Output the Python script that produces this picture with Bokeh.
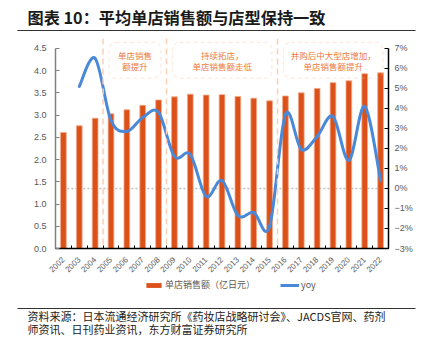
import math
import numpy as np
from bokeh.plotting import figure
from bokeh.layouts import column
from bokeh.models import (Range1d, LinearAxis, FixedTicker, PrintfTickFormatter, Span,
                          BoxAnnotation, Legend, LegendItem)
from bokeh.core.properties import value
from bokeh.embed import file_html
from bokeh.resources import INLINE

# ---------------- data ----------------
years = [str(y) for y in range(2002, 2023)]
sales = [2.61, 2.76, 2.93, 3.03, 3.12, 3.22, 3.34, 3.41, 3.47, 3.45, 3.46,
         3.42, 3.38, 3.32, 3.43, 3.50, 3.60, 3.73, 3.77, 3.93, 3.95]
yoy_years = years[1:]
yoy = [5.1, 6.5, 3.4, 2.85, 3.55, 3.8, 1.6, 1.7, -0.4, 0.4, -1.35,
       -1.2, -1.9, 3.7, 1.95, 2.6, 3.6, 1.4, 4.1, 0.4]
left_ticks = [0.0, 0.5, 1.0, 1.5, 2.0, 2.5, 3.0, 3.5, 4.0, 4.5]
right_ticks = [-3, -2, -1, 0, 1, 2, 3, 4, 5, 6, 7]
phase_starts = ["2005", "2009", "2016"]
notes = [["单店销售", "额提升"],
         ["持续拓店，", "单店销售额走低"],
         ["并购后中大型店增加，", "单店销售额提升"]]
title_text = "图表 10：平均单店销售额与店型保持一致"
source_lines = ["资料来源：日本流通经济研究所《药妆店战略研讨会》、JACDS官网、药剂",
                "师资讯、日刊药业资讯，东方财富证券研究所"]
bar_label = "单店销售额（亿日元）"
line_label = "yoy"

# ---------------- style / layout ----------------
CJK = "Noto Sans CJK SC"
LAT = "Liberation Sans"
BAR = "#DC5019"
BAR_EDGE = "#F3A985"
BLUE = "#4A88D8"
PEACH = "#FAD0B4"
NOTE = "#EE7A3C"
GRAY_TXT = "#595959"

W = 426
TOP_H = 36
MAIN_B = 277          # page y where the main figure ends
FOOT_H = 349 - MAIN_B
FR_L, FR_R, FR_T, FR_B = 55, 388, 38, 250   # frame in page pixels
TICK_TOP = 48                               # pixel of the top tick

scale = (FR_B - FR_T) / (FR_B - TICK_TOP)
left_max = left_ticks[-1] * scale
r_span = (right_ticks[-1] - right_ticks[0]) * scale

# ---------------- title strip ----------------
t = figure(width=W, height=TOP_H, x_range=Range1d(0, W), y_range=Range1d(TOP_H, 0),
           toolbar_location=None, output_backend="svg", min_border=0,
           x_axis_location=None, y_axis_location=None, outline_line_color=None)
t.frame_align = False
t.grid.visible = False
t.text(x=[27], y=[16.5], text=[title_text], text_font=value(CJK), text_font_size="16.2px",
       text_font_style="bold", text_baseline="middle", text_color="#1a1a1a")
t.segment(x0=[17], y0=[30], x1=[415], y1=[30], line_color="#333333", line_width=1)

# ---------------- main chart ----------------
n = len(years)
xi = list(range(n))
p = figure(width=W, height=MAIN_B - TOP_H, x_range=Range1d(-0.5, n - 0.5), y_range=Range1d(0, left_max),
           toolbar_location=None, output_backend="svg",
           min_border_left=FR_L, min_border_right=W - FR_R,
           min_border_top=FR_T - TOP_H, min_border_bottom=MAIN_B - FR_B)
p.frame_align = False
p.extra_y_ranges = {"r": Range1d(right_ticks[0], right_ticks[0] + r_span)}
p.grid.visible = False
p.outline_line_color = None

# x axis
xa = p.xaxis[0]
xa.ticker = FixedTicker(ticks=xi, minor_ticks=[i - 0.5 for i in range(n + 1)])
xa.major_label_overrides = {i: y for i, y in enumerate(years)}
xa.major_label_orientation = math.pi / 4
xa.major_tick_line_color = None
xa.minor_tick_in = 3
xa.minor_tick_out = 0
xa.minor_tick_line_color = "#000000"
xa.axis_line_color = "#000000"
xa.axis_line_width = 1.5
xa.major_label_text_font = LAT
xa.major_label_text_font_size = "8px"
xa.major_label_text_color = GRAY_TXT
xa.major_label_standoff = 4

# left axis
ya = p.yaxis[0]
ya.ticker = FixedTicker(ticks=left_ticks)
ya.formatter = PrintfTickFormatter(format="%.1f")
ya.bounds = (left_ticks[0], left_ticks[-1])
ya.axis_line_color = "#808080"
ya.axis_line_width = 1.5
ya.major_tick_in = 4
ya.major_tick_out = 0
ya.major_tick_line_color = "#808080"
ya.minor_tick_line_color = None
ya.major_label_text_font = LAT
ya.major_label_text_font_size = "9px"
ya.major_label_text_color = GRAY_TXT
ya.major_label_standoff = 9

# right axis
ra = LinearAxis(y_range_name="r", ticker=FixedTicker(ticks=right_ticks),
                major_label_overrides={t_: (f"{t_}%" if t_ >= 0 else f"\u2212{abs(t_)}%") for t_ in right_ticks})
ra.bounds = (right_ticks[0], right_ticks[-1])
ra.axis_line_color = "#000000"
ra.axis_line_width = 1.5
ra.major_tick_in = 4
ra.major_tick_out = 0
ra.major_tick_line_color = "#000000"
ra.minor_tick_line_color = None
ra.major_label_text_font = LAT
ra.major_label_text_font_size = "9px"
ra.major_label_text_color = GRAY_TXT
ra.major_label_standoff = 6
p.add_layout(ra, "right")

# phase separators
for s in phase_starts:
    p.add_layout(Span(location=years.index(s) - 0.5, dimension="height",
                      line_color=PEACH, line_dash="6 4", line_width=1.5))

# zero line on the right scale
p.segment(x0=[0], y0=[0], x1=[n - 1], y1=[0], y_range_name="r",
          line_color="#BFBFBF", line_dash="2 2", line_width=1.5)

# bars
bars = p.vbar(x=xi, top=sales, width=0.36, fill_color=BAR, line_color=BAR_EDGE, line_width=0.8)

# smooth yoy line (Catmull-Rom as cubic Bezier segments)
xs = np.array([years.index(y) for y in yoy_years], dtype=float)
ys = np.array(yoy, dtype=float)
P = np.column_stack([xs, ys])
prev = np.vstack([P[:1], P[:-1]])
nxt = np.vstack([P[1:], P[-1:]])
tang = (nxt - prev) / 6.0
c0 = P[:-1] + tang[:-1]
c1 = P[1:] - tang[1:]
p.bezier(x0=P[:-1, 0].tolist(), y0=P[:-1, 1].tolist(), x1=P[1:, 0].tolist(), y1=P[1:, 1].tolist(),
         cx0=c0[:, 0].tolist(), cy0=c0[:, 1].tolist(), cx1=c1[:, 0].tolist(), cy1=c1[:, 1].tolist(),
         y_range_name="r", line_color=BLUE, line_width=3, line_cap="round")

# annotation boxes
px_per = (FR_B - TICK_TOP) / left_ticks[-1]
box_top = (FR_B - 42) / px_per
box_bot = (FR_B - 78) / px_per
box_mid = (box_top + box_bot) / 2
dy = 5.5 / px_per
bounds_x = [years.index(s) - 0.5 for s in phase_starts] + [n - 0.5]
for k, lines in enumerate(notes):
    lft = bounds_x[k] + 0.38
    rgt = bounds_x[k + 1] - 0.35
    p.add_layout(BoxAnnotation(left=lft, right=rgt, top=box_top, bottom=box_bot,
                               fill_alpha=0, line_color="#F7BE9C", line_dash="4 3",
                               line_width=1.2, border_radius=7))
    cx = (lft + rgt) / 2
    p.text(x=[cx, cx], y=[box_mid + dy, box_mid - dy], text=lines,
           text_font=value(CJK), text_font_size="8.5px", text_color=NOTE,
           text_align="center", text_baseline="middle")

# ---------------- footer (legend + source) ----------------
f = figure(width=W, height=FOOT_H, x_range=Range1d(0, W), y_range=Range1d(FOOT_H, 0),
           toolbar_location=None, output_backend="svg", min_border=0,
           x_axis_location=None, y_axis_location=None, outline_line_color=None)
f.frame_align = False
f.grid.visible = False
# legend keys (hidden renderers that only lend their style to the legend)
bar_key = f.vbar(x=[0], top=[0], width=1, fill_color=BAR, line_color=None, visible=False)
line_key = f.line(x=[0, 0], y=[0, 0], line_color=BLUE, line_width=3, visible=False)
LEG_CY = 286 - MAIN_B      # legend centre in footer coords
legend = Legend(items=[LegendItem(label=bar_label, renderers=[bar_key]),
                       LegendItem(label=line_label, renderers=[line_key])],
                orientation="horizontal", location=(144, FOOT_H - LEG_CY - 5),
                label_text_font=CJK, label_text_font_size="9px", label_text_color=GRAY_TXT,
                glyph_width=19, glyph_height=6, label_height=10, label_standoff=2,
                padding=0, margin=0, spacing=25, border_line_color=None,
                background_fill_alpha=0, inactive_fill_alpha=0)
f.add_layout(legend)
RULE_Y = 308 - MAIN_B
f.segment(x0=[17], y0=[RULE_Y], x1=[415], y1=[RULE_Y], line_color="#333333", line_width=1)
f.text(x=[27, 27], y=[RULE_Y + 7.5, RULE_Y + 20.5], text=source_lines, text_font=value(CJK),
       text_font_size="11px", text_baseline="middle", text_color="#222222")

layout = column(t, p, f, spacing=0)
open("out.html", "w").write(file_html(layout, INLINE))
